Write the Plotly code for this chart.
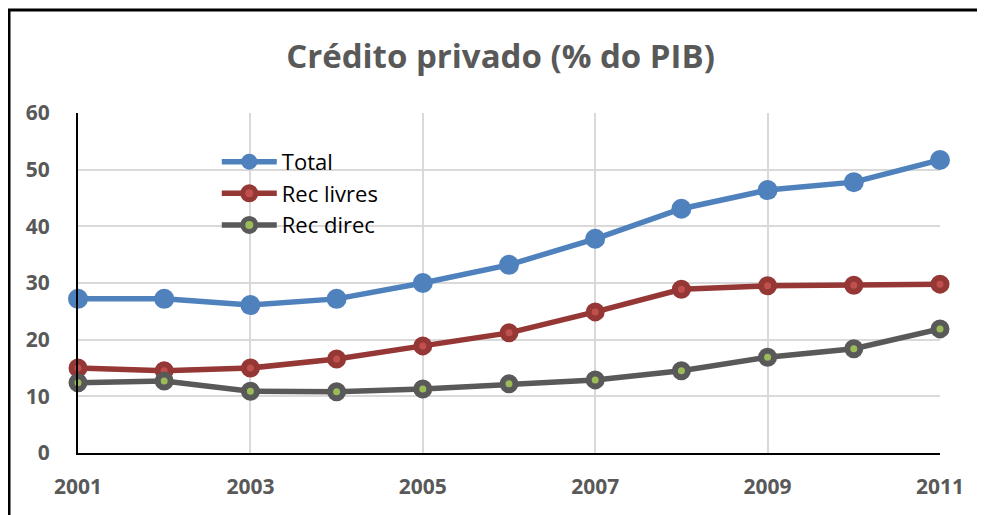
import plotly.graph_objects as go

years = list(range(2001, 2012))
total = [27.2, 27.2, 26.1, 27.2, 30.0, 33.2, 37.8, 43.1, 46.4, 47.8, 51.7]
rec_livres = [15.0, 14.5, 15.0, 16.6, 18.9, 21.2, 24.9, 28.9, 29.5, 29.6, 29.8]
rec_direc = [12.4, 12.7, 10.9, 10.8, 11.3, 12.2, 12.9, 14.5, 16.9, 18.4, 21.9]
x_ticks = [2001, 2003, 2005, 2007, 2009, 2011]
y_ticks = [0, 10, 20, 30, 40, 50, 60]

series = [
    ("Total", total, "#4F81BD", "#4F81BD", "#4F81BD"),
    ("Rec livres", rec_livres, "#953735", "#C0504D", "#953735"),
    ("Rec direc", rec_direc, "#595959", "#9BBB59", "#595959"),
]

fig = go.Figure()
for name, vals, line_c, fill_c, edge_c in series:
    solid = name == "Total"
    fig.add_trace(go.Scatter(
        x=years, y=vals, name=name, mode="lines+markers",
        line=dict(color=line_c, width=5.5),
        marker=dict(size=20 if solid else 13, color=fill_c,
                    line=dict(color=edge_c, width=0 if solid else 6)),
        cliponaxis=False,
    ))

tick_font = dict(family="Open Sans", size=21, color="#595959", weight="bold")

# the page body has an 8px margin, so the plot box is shifted by that much
fig.update_layout(
    width=985, height=515,
    margin=dict(l=70, r=53, t=105, b=70),
    paper_bgcolor="white", plot_bgcolor="white",
    title=dict(text="Crédito privado (% do PIB)", x=0.5, xanchor="center",
               y=0.905, yanchor="middle",
               font=dict(family="Open Sans", size=33, color="#595959", weight="bold")),
    legend=dict(x=0.161, y=0.918, xanchor="left", yanchor="top",
                font=dict(family="Open Sans", size=22, color="black"),
                bgcolor="rgba(0,0,0,0)", itemwidth=55, tracegroupgap=0),
    showlegend=True,
    xaxis=dict(range=[2001, 2011], tickvals=x_ticks, showgrid=True,
               gridcolor="#D9D9D9", gridwidth=2, showline=True, linecolor="black",
               linewidth=2, zeroline=False, tickfont=tick_font, ticks="", ticklabelstandoff=14),
    yaxis=dict(range=[0, 60], tickvals=y_ticks, showgrid=True,
               gridcolor="#D9D9D9", gridwidth=2, showline=True, linecolor="black",
               linewidth=2, zeroline=False, tickfont=tick_font, ticks="", ticklabelstandoff=22),
    shapes=[
        dict(type="line", xref="paper", yref="paper",
             x0=(5 - 78) / 862, x1=(990 - 78) / 862,
             y0=(453 - 10) / 340, y1=(453 - 10) / 340,
             line=dict(color="black", width=3)),
        dict(type="line", xref="paper", yref="paper",
             x0=(9 - 78) / 862, x1=(9 - 78) / 862,
             y0=(453 - 10) / 340, y1=(453 - 520) / 340,
             line=dict(color="black", width=3)),
    ],
)

fig.write_html("out.html")
